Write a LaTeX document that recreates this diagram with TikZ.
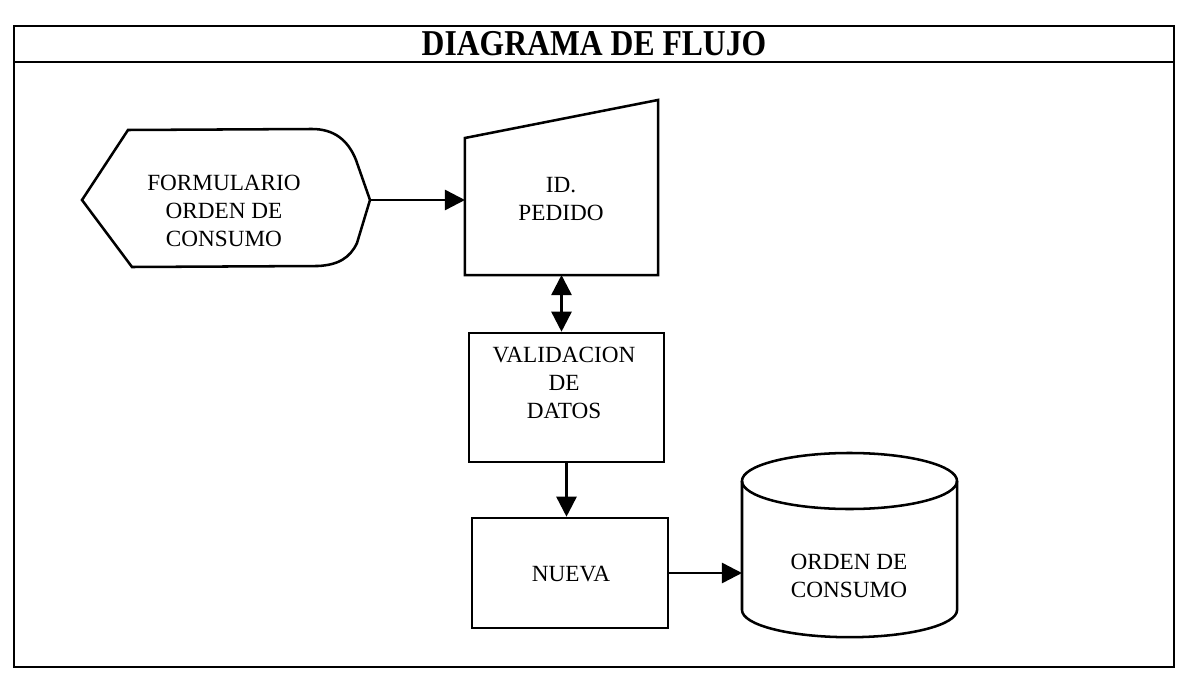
\documentclass[tikz,border=0pt]{standalone}
\usepackage{fontspec}
\setmainfont{Liberation Serif}
\usetikzlibrary{arrows.meta}
\begin{document}
\begin{tikzpicture}[x=0.025cm,y=-0.025cm,
  shp/.style={draw=black, line width=1.8pt, line join=miter},
  frm/.style={draw=black, line width=1.1pt},
  lbl/.style={align=center, font=\fontsize{16.5}{19.9}\selectfont, inner sep=0pt},
  ghost/.style={inner sep=0pt, outer sep=0pt},
  arr/.style={line width=1.8pt, -{Triangle[length=0.5cm,width=0.5cm]}},
  darr/.style={line width=1.8pt, {Triangle[length=0.5cm,width=0.5cm]}-{Triangle[length=0.5cm,width=0.5cm]}}]
\useasboundingbox (0,0) rectangle (1183,689);

% frame
\draw[frm] (14,26) rectangle (1174,667);
\draw[frm] (14,62) -- (1174,62);
\node[font=\bfseries\fontsize{22.5}{27}\selectfont, inner sep=0pt] (title) at (594,44) {\scalebox{1}[1.15]{DIAGRAMA DE FLUJO}};

% FORMULARIO (display symbol)
\node[ghost, minimum width=7.2cm, minimum height=3.4cm] (form) at (226,200) {};
\draw[shp] (82,200) -- (128,130) -- (312,129)
  .. controls (334,129) and (348,140) .. (356,160) -- (370,200) -- (357,243)
  .. controls (350,258) and (338,265) .. (318,266) -- (132,267) -- cycle;
\node[lbl] (formtxt) at (224,211) {FORMULARIO\\ORDEN DE\\CONSUMO};

% ID. PEDIDO (manual input)
\node[ghost, minimum width=4.825cm, minimum height=4.375cm] (id) at (561.5,187.5) {};
\draw[shp] (id.south west) -- (id.south east) -- (id.north east) -- ([yshift=-0.95cm]id.north west) -- cycle;
\node[lbl] (idtxt) at (561,199) {ID.\\PEDIDO};

% VALIDACION DE DATOS
\node[shp, minimum width=4.875cm, minimum height=3.225cm] (val) at (566.5,397.5) {};
\node[lbl] (valtxt) at (564,383) {VALIDACION\\DE\\DATOS};

% NUEVA
\node[shp, minimum width=4.9cm, minimum height=2.75cm] (nue) at (570,573) {};
\node[lbl] (nuetxt) at (571,574) {NUEVA};

% ORDEN DE CONSUMO (cylinder)
\node[ghost, minimum width=5.375cm, minimum height=4.6cm] (db) at (849.5,545) {};
\draw[shp] (742,481) -- (742,610) arc[start angle=180, end angle=360, x radius=2.6875cm, y radius=0.68cm] -- (957,481);
\draw[shp] (849.5,481) ellipse [x radius=2.6875cm, y radius=0.7cm];
\node[lbl] (dbtxt) at (849,576) {ORDEN DE\\CONSUMO};

% connectors
\draw[arr] (form.east) -- (form.east -| id.west);
\draw[darr] (id.south) -- (id.south |- val.north);
\draw[arr] (val.south) -- (val.south |- nue.north);
\draw[arr] (nue.east) -- (nue.east -| db.west);
\end{tikzpicture}
\end{document}
